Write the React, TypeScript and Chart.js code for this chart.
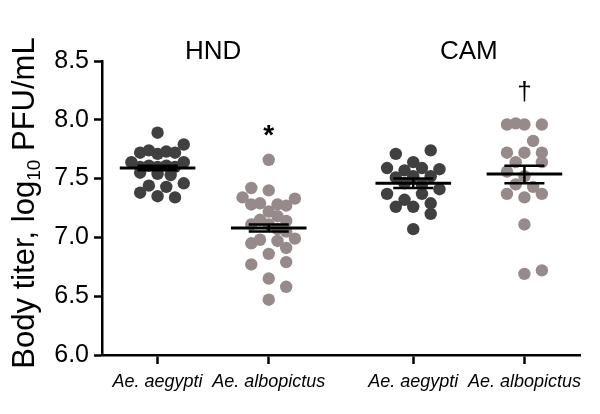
import React, { useEffect, useRef } from 'react';
import { Chart, registerables } from 'chart.js';

Chart.register(...registerables);

const FONT = '"Liberation Sans", Arial, Helvetica, sans-serif';

// ---- data ----
const categories = ['Ae. aegypti', 'Ae. albopictus', 'Ae. aegypti', 'Ae. albopictus'];
const categoryPositions = [1, 3, 5.6, 7.6];
const sites = ['HND', 'CAM'];
const markers = ['', '*', '', '†'];
const markerValues = [NaN, 7.91, NaN, 8.24];
const yTicks = [6.0, 6.5, 7.0, 7.5, 8.0, 8.5];

const hndAegypti = [7.89, 7.79, 7.72, 7.74, 7.71, 7.73, 7.72, 7.64, 7.64, 7.6, 7.61, 7.6, 7.61, 7.6, 7.55, 7.54, 7.53, 7.46, 7.44, 7.43, 7.38, 7.35, 7.34];
const hndAegyptiJitter = [0, 3, -2, -1, 0, 1, 2, -3, 3, -2, -1, 0, 1, 2, -2, 0, 1.5, 3, -1, 1, -2, 0, 2];

const hndAlbopictus = [7.66, 7.42, 7.4, 7.34, 7.33, 7.28, 7.29, 7.28, 7.27, 7.22, 7.18, 7.15, 7.14, 7.11, 7.11, 7.07, 7.05, 6.95, 6.98, 6.97, 6.99, 6.91, 6.86, 6.77, 6.79, 6.65, 6.58, 6.47];
const hndAlbopictusJitter = [0, -2, 0, -3, 3, -2, -1, 1, 2, 0, 1, -1, 2, -2, 0, 1, 2, -2, -1, 1, 3, 2, 0, -2, 2, 0, 2, 0];

const camAegypti = [7.71, 7.74, 7.59, 7.64, 7.57, 7.59, 7.58, 7.51, 7.52, 7.52, 7.46, 7.45, 7.37, 7.41, 7.32, 7.37, 7.26, 7.26, 7.29, 7.2, 7.07];
const camAegyptiJitter = [-2, 2, -3, 0, -1, 1, 3, -2, 0, 2, -1, 1, -3, 3, -1, 1, -2, 0, 2, 2, 0];

const camAlbopictus = [7.96, 7.97, 7.96, 7.96, 7.82, 7.72, 7.72, 7.72, 7.64, 7.64, 7.56, 7.52, 7.45, 7.43, 7.37, 7.34, 7.37, 7.11, 6.69, 6.72];
const camAlbopictusJitter = [-2, -1, 0, 2, 1, -2, 0, 2, -1, 2, -2, 0, -1, 1, -2, 0, 2, 0, 0, 2];

const means = [7.59, 7.08, 7.46, 7.54];
const semLow = [7.57, 7.05, 7.42, 7.46];
const semHigh = [7.61, 7.11, 7.5, 7.61];

const groupValues = [hndAegypti, hndAlbopictus, camAegypti, camAlbopictus];
const groupJitter = [hndAegyptiJitter, hndAlbopictusJitter, camAegyptiJitter, camAlbopictusJitter];
const groupColors = ['#404040', '#968b8a', '#404040', '#968b8a'];

const JITTER_STEP = 0.157;
const MEAN_HALF = 0.68;
const CAP_HALF = 0.36;

const annotPlugin = {
  id: 'annot',
  afterDraw(chart: any) {
    const { ctx, chartArea, scales } = chart;
    const xs = scales.x;
    const ys = scales.y;
    ctx.save();
    ctx.fillStyle = '#000';

    // site headers
    ctx.font = `26px ${FONT}`;
    ctx.textAlign = 'center';
    ctx.textBaseline = 'alphabetic';
    sites.forEach((s, i) => {
      const cx = (xs.getPixelForValue(categoryPositions[2 * i]) + xs.getPixelForValue(categoryPositions[2 * i + 1])) / 2;
      ctx.fillText(s, cx, chartArea.top - 2);
    });

    // significance markers, centered on their value
    markers.forEach((m, i) => {
      if (!m) return;
      ctx.font = m === '*' ? `bold 28px ${FONT}` : `26px ${FONT}`;
      const tm = ctx.measureText(m);
      const cy = ys.getPixelForValue(markerValues[i]);
      const asc = tm.actualBoundingBoxAscent;
      const desc = tm.actualBoundingBoxDescent;
      const baseline = cy + (asc - desc) / 2;
      ctx.fillText(m, xs.getPixelForValue(categoryPositions[i]), baseline);
    });

    // y title with subscript
    const mainFont = `31px ${FONT}`;
    const subFont = `19px ${FONT}`;
    const p1 = 'Body titer, log';
    const p2 = '10';
    const p3 = ' PFU/mL';
    ctx.font = mainFont;
    const w1 = ctx.measureText(p1).width;
    const w3 = ctx.measureText(p3).width;
    ctx.font = subFont;
    const w2 = ctx.measureText(p2).width;
    const total = w1 + w2 + w3;
    ctx.translate(34, 203);
    ctx.rotate(-Math.PI / 2);
    ctx.textAlign = 'left';
    let x0 = -total / 2;
    ctx.font = mainFont;
    ctx.fillText(p1, x0, 0);
    x0 += w1;
    ctx.font = subFont;
    ctx.fillText(p2, x0, 6);
    x0 += w2;
    ctx.font = mainFont;
    ctx.fillText(p3, x0, 0);
    ctx.restore();
  },
};

export default function App() {
  const ref = useRef<HTMLCanvasElement | null>(null);

  useEffect(() => {
    if (!ref.current) return;
    const datasets: any[] = [];

    groupValues.forEach((vals, g) => {
      datasets.push({
        type: 'scatter',
        data: vals.map((v, k) => ({ x: categoryPositions[g] + groupJitter[g][k] * JITTER_STEP, y: v })),
        backgroundColor: groupColors[g],
        borderColor: groupColors[g],
        borderWidth: 0,
        pointRadius: 6.2,
        order: 2,
      });
    });

    categoryPositions.forEach((c, g) => {
      const lineStyle = {
        type: 'line',
        borderColor: '#000',
        pointRadius: 0,
        fill: false,
        tension: 0,
        order: 1,
      };
      datasets.push({ ...lineStyle, borderWidth: 3, data: [{ x: c - MEAN_HALF, y: means[g] }, { x: c + MEAN_HALF, y: means[g] }] });
      datasets.push({ ...lineStyle, borderWidth: 2.5, data: [{ x: c - CAP_HALF, y: semHigh[g] }, { x: c + CAP_HALF, y: semHigh[g] }] });
      datasets.push({ ...lineStyle, borderWidth: 2.5, data: [{ x: c - CAP_HALF, y: semLow[g] }, { x: c + CAP_HALF, y: semLow[g] }] });
      datasets.push({ ...lineStyle, borderWidth: 2.5, data: [{ x: c, y: semLow[g] }, { x: c, y: semHigh[g] }] });
    });

    const chart = new Chart(ref.current, {
      type: 'scatter',
      data: { datasets },
      options: {
        animation: false,
        responsive: false,
        devicePixelRatio: 1,
        layout: { padding: { left: 0, top: 61, right: 20, bottom: 0 } },
        plugins: { legend: { display: false }, tooltip: { enabled: false }, title: { display: false } },
        scales: {
          x: {
            type: 'linear',
            min: 0,
            max: 8.6,
            afterFit: (s: any) => { s.height = 59; },
            afterBuildTicks: (s: any) => { s.ticks = categoryPositions.map((v) => ({ value: v })); },
            ticks: {
              autoSkip: false,
              maxRotation: 0,
              padding: 7,
              color: '#000',
              font: { family: FONT, size: 18, style: 'italic' },
              callback: (v: any) => {
                const i = categoryPositions.indexOf(Number(v));
                return i >= 0 ? categories[i] : '';
              },
            },
            grid: { drawOnChartArea: false, tickLength: 9, tickColor: '#000', tickWidth: 2.5 },
            border: { display: true, color: '#000', width: 2.5 },
          },
          y: {
            type: 'linear',
            min: 6,
            max: 8.5,
            afterFit: (s: any) => { s.width = 102; },
            afterBuildTicks: (s: any) => { s.ticks = yTicks.map((v) => ({ value: v })); },
            ticks: {
              padding: 5,
              color: '#000',
              font: { family: FONT, size: 25 },
              callback: (v: any) => Number(v).toFixed(1),
            },
            grid: { drawOnChartArea: false, tickLength: 8, tickColor: '#000', tickWidth: 2.5 },
            border: { display: true, color: '#000', width: 2.5 },
          },
        },
      },
      plugins: [annotPlugin],
    } as any);

    return () => chart.destroy();
  }, []);

  return (
    <div style={{ position: 'absolute', left: 0, top: 0, width: 600, height: 414, background: '#fff' }}>
      <canvas ref={ref} width={600} height={414} />
    </div>
  );
}
